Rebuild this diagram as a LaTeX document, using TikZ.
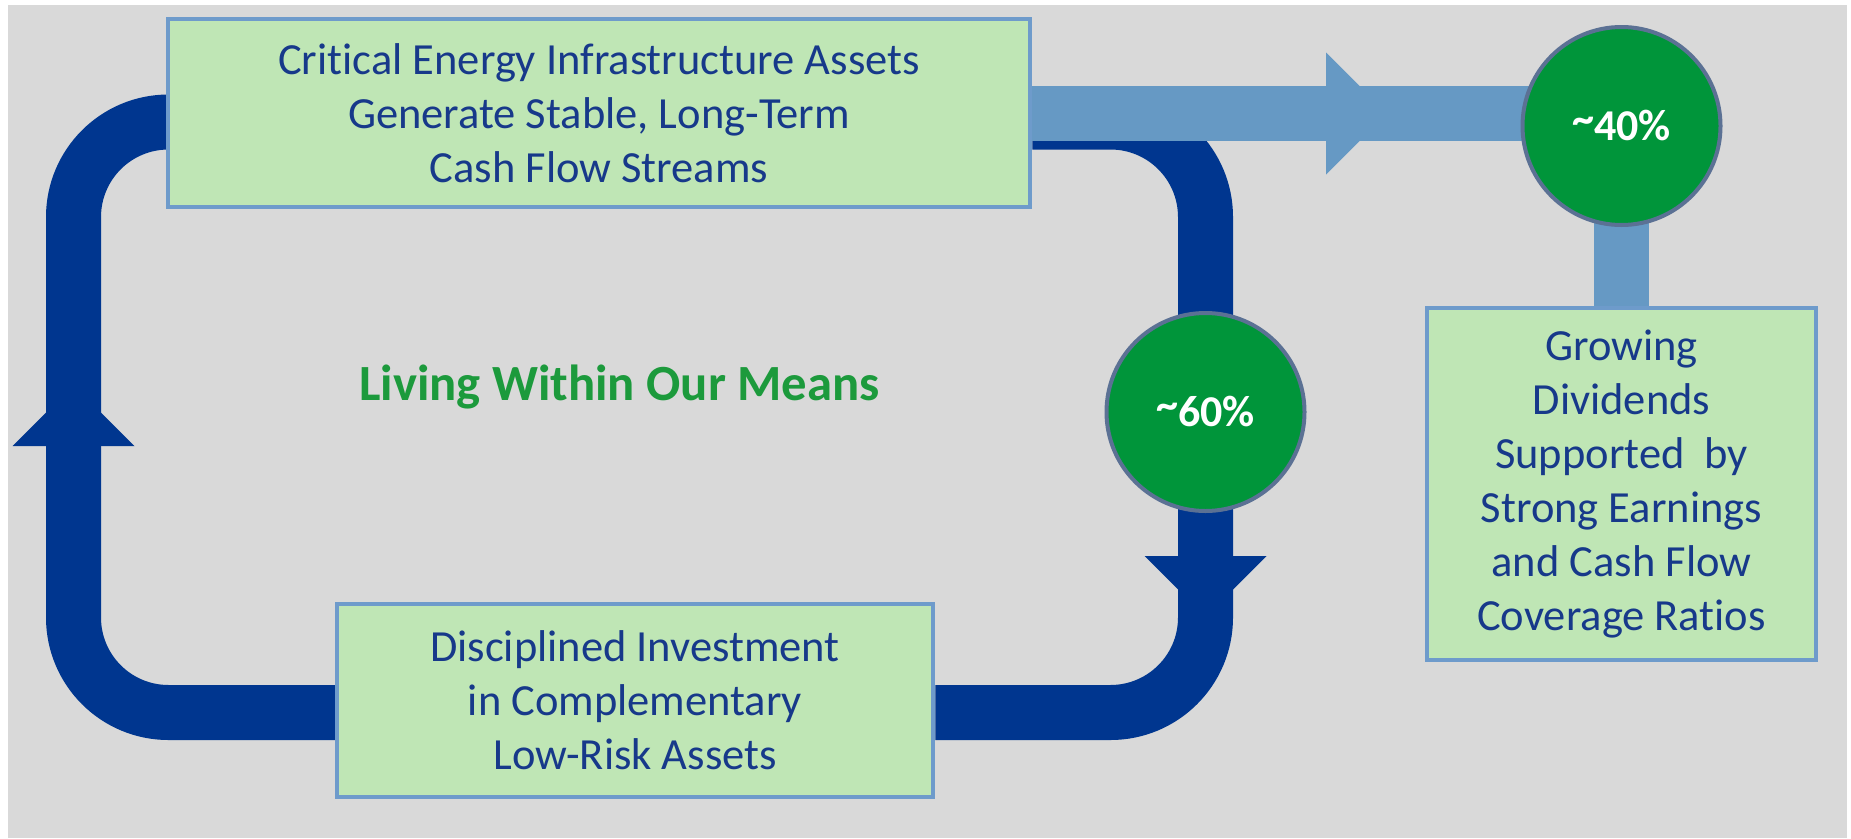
\documentclass[tikz,border=0pt]{standalone}
\usepackage{fontspec}
\setmainfont[Ligatures=NoCommon]{Carlito}
\definecolor{panelgray}{HTML}{D9D9D9}
\definecolor{loopblue}{HTML}{00368F}
\definecolor{flowblue}{HTML}{6699C4}
\definecolor{boxfill}{HTML}{BFE6B5}
\definecolor{boxline}{HTML}{6E9BCB}
\definecolor{pctgreen}{HTML}{00953A}
\definecolor{ringline}{HTML}{5B7194}
\definecolor{navytext}{HTML}{17398A}
\definecolor{mottogreen}{HTML}{1C9A3C}
\newcommand{\pcttilde}{\raisebox{0.17em}{\symbol{126}}}
\pgfdeclarelayer{back}
\pgfsetlayers{back,main}
\begin{document}
\begin{tikzpicture}[x=1pt,y=-1pt,
  infobox/.style={draw=boxline, fill=boxfill, line width=4.5, inner sep=0,
    align=center, text=navytext, font=\fontsize{44.5}{54}\selectfont},
  pct/.style={circle, draw=ringline, fill=pctgreen, line width=4,
    minimum size=198, inner sep=0, text=white,
    font=\bfseries\fontsize{44}{50}\selectfont},
  darkband/.style={draw=loopblue, line width=55, rounded corners=95},
  lightband/.style={draw=flowblue, line width=55}]
\useasboundingbox (0,0) rectangle (1851,838);

% boxes and percentage discs
\node[infobox, minimum width=862, minimum height=188] (top) at (599,113)
  {Critical Energy Infrastructure Assets\\Generate Stable, Long-Term\\Cash Flow Streams};
\node[infobox, minimum width=596, minimum height=193] (bot) at (635,700.5)
  {Disciplined Investment\\in Complementary\\Low-Risk Assets};
\node[infobox, minimum width=389, minimum height=352] (rbox) at (1621.5,484)
  {Growing\\Dividends\\Supported\ \ by\\Strong Earnings\\and Cash Flow\\Coverage Ratios};
\node[pct] (c60) at (1205.5,412) {\pcttilde60\%};
\node[pct] (c40) at (1621.5,126) {\pcttilde40\%};
\node[anchor=base, text=mottogreen, font=\bfseries\fontsize{50.7}{60}\selectfont]
  (motto) at (619.5,400) {Living Within Our Means};

% band levels
\coordinate (bandtop) at (0,122);
\coordinate (bandbot) at (0,712.5);
\coordinate (flowlvl) at (0,113.5);
\coordinate (lt) at (73.5,122);
\coordinate (lb) at (73.5,712.5);

\begin{pgfonlayer}{back}
  \fill[white] (0,0) rectangle (1851,838);
  \fill[panelgray] (8,5) rectangle (1847,838);
  % reinvestment loop
  \draw[darkband] (top.east |- bandtop) -| (c60.center);
  \draw[darkband] (c60.center) |- (bot.east |- bandbot);
  \draw[darkband] (bot.west |- bandbot) -- (lb) -- (lt) -- (top.west |- bandtop);
  \fill[loopblue] (12.5,446) -- (134.5,446) -- (73.5,385) -- cycle;
  \fill[loopblue] (1144.5,556) -- (1266.5,556) -- (1205.5,617) -- cycle;
  % dividend flow
  \draw[lightband] (top.east |- flowlvl) -| (rbox.north);
  \fill[flowblue] (1326,52.5) -- (1326,174.5) -- (1387,113.5) -- cycle;
\end{pgfonlayer}
\end{tikzpicture}
\end{document}
